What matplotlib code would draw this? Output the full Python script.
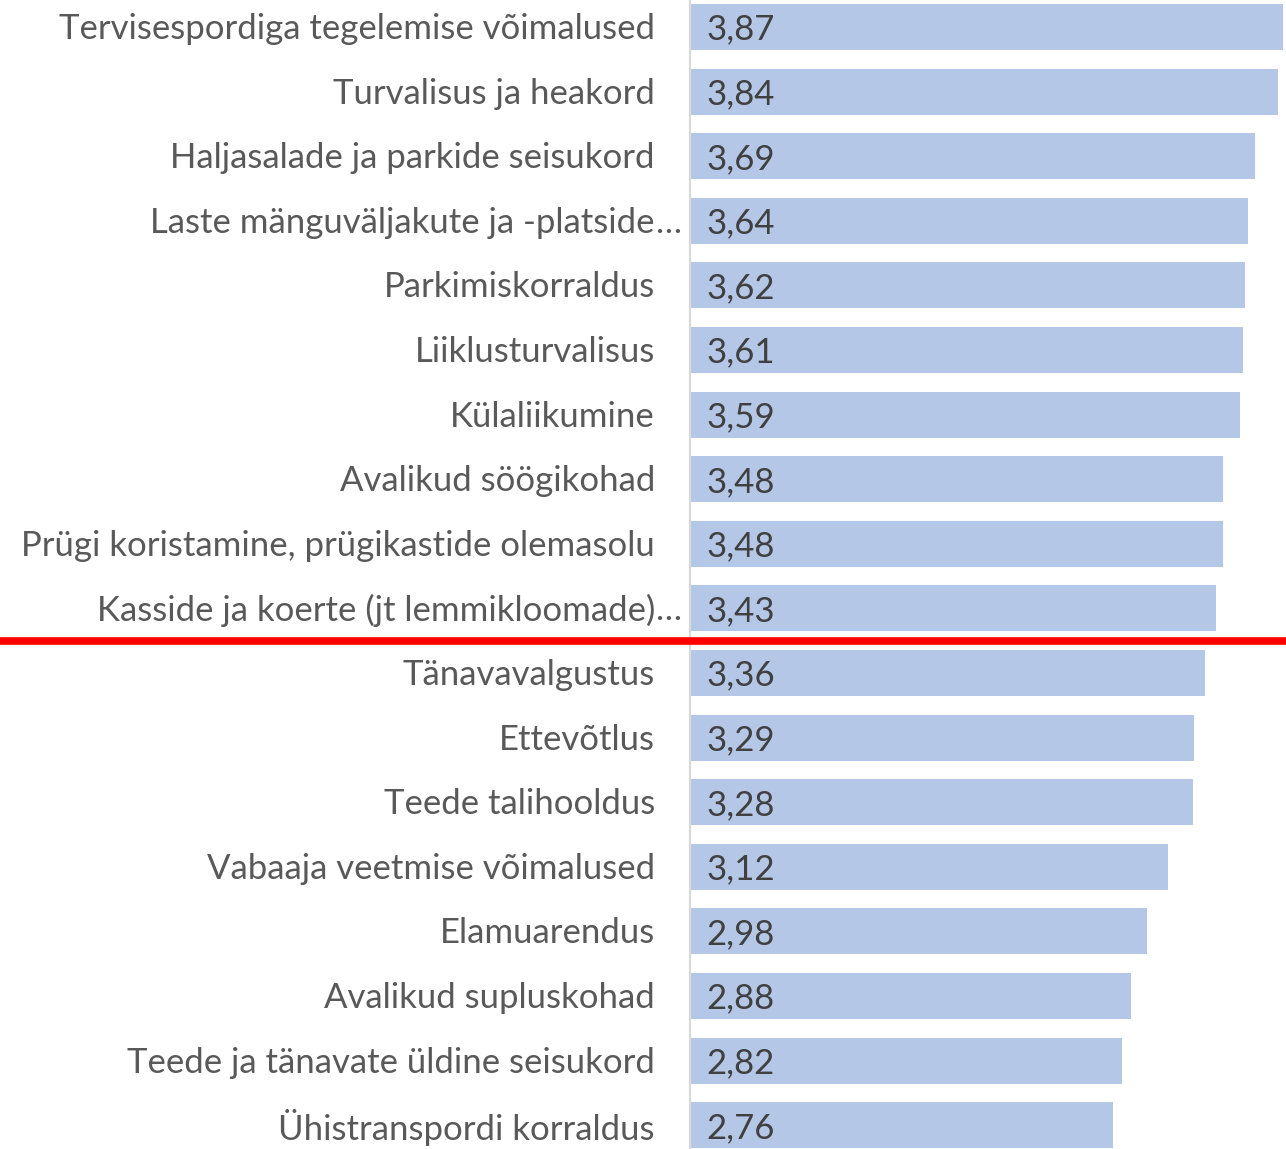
import matplotlib
matplotlib.use("Agg")
import matplotlib.pyplot as plt
from matplotlib.lines import Line2D
from matplotlib.transforms import blended_transform_factory

categories = [
    "Tervisespordiga tegelemise võimalused",
    "Turvalisus ja heakord",
    "Haljasalade ja parkide seisukord",
    "Laste mänguväljakute ja -platside…",
    "Parkimiskorraldus",
    "Liiklusturvalisus",
    "Külaliikumine",
    "Avalikud söögikohad",
    "Prügi koristamine, prügikastide olemasolu",
    "Kasside ja koerte (jt lemmikloomade)…",
    "Tänavavalgustus",
    "Ettevõtlus",
    "Teede talihooldus",
    "Vabaaja veetmise võimalused",
    "Elamuarendus",
    "Avalikud supluskohad",
    "Teede ja tänavate üldine seisukord",
    "Ühistranspordi korraldus",
]
values = [3.87, 3.84, 3.69, 3.64, 3.62, 3.61, 3.59, 3.48, 3.48, 3.43,
          3.36, 3.29, 3.28, 3.12, 2.98, 2.88, 2.82, 2.76]
value_labels = ["3,87", "3,84", "3,69", "3,64", "3,62", "3,61", "3,59", "3,48", "3,48", "3,43",
                "3,36", "3,29", "3,28", "3,12", "2,98", "2,88", "2,82", "2,76"]
separator_after = 9  # red line drawn between item 10 and 11

W, H = 1286, 1149
fig = plt.figure(figsize=(W / 100, H / 100), dpi=100)
ax_left = 690 / W
ax = fig.add_axes([ax_left, 0, 1 - ax_left, 1])

font = "Lato"
fs = 25
y = list(range(len(categories)))
ax.barh(y, values, height=0.71, color="#b4c7e7", edgecolor="none", zorder=2)

row = 64.6
top0 = 27
ax.set_ylim((H - top0) / row, -top0 / row)
ax.set_xlim(0, 3.87 * 596 / 593)

for s in ["top", "right", "bottom"]:
    ax.spines[s].set_visible(False)
ax.spines["left"].set_color("#d9d9d9")
ax.spines["left"].set_linewidth(1.6)
ax.set_xticks([])
ax.set_yticks([])

# category labels
trans = blended_transform_factory(fig.transFigure, ax.transData)
xlab = 655 / W
for i, c in enumerate(categories):
    if c.endswith("…"):
        ax.text(xlab, i + 0.03, c[:-1], transform=trans, ha="right", va="center",
                fontsize=fs, family=font, color="#595959")
        ax.text(xlab, i + 0.03, "…", transform=trans, ha="left", va="center",
                fontsize=fs, family=font, color="#595959")
    else:
        ax.text(xlab, i + 0.03, c, transform=trans, ha="right", va="center",
                fontsize=fs, family=font, color="#595959")

# value labels
xval = 706 / W
for i, lab in enumerate(value_labels):
    ax.text(xval, i + 0.04, lab, transform=trans, ha="left", va="center",
            fontsize=fs, family=font, color="#404040", zorder=3)

# red separator line across the whole figure
ysep = separator_after + 0.5
yfig = fig.transFigure.inverted().transform(ax.transData.transform((0, ysep)))[1]
fig.add_artist(Line2D([0, 1], [yfig, yfig], transform=fig.transFigure,
                      color="#ff0000", linewidth=5.5, solid_capstyle="butt"))

fig.savefig("out.png", dpi=100)
